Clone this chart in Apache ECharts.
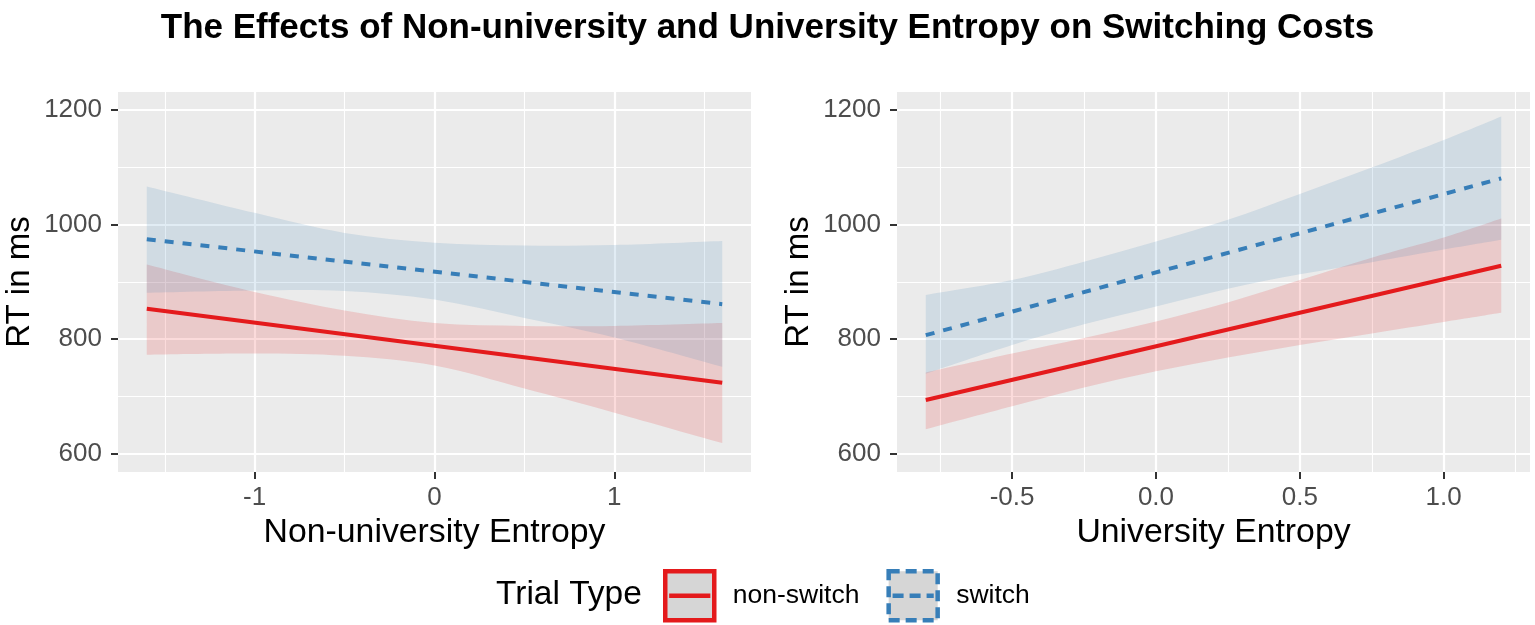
<!DOCTYPE html>
<html><head><meta charset="utf-8">
<script src="https://cdn.jsdelivr.net/npm/echarts@6/dist/echarts.min.js"></script>
<style>html,body{margin:0;padding:0;background:#fff}#c{width:1535px;height:625px}</style>
</head><body><div id="c"></div>
<script>
const titleText = 'The Effects of Non-university and University Entropy on Switching Costs';
const legendTitle = 'Trial Type';
const seriesNames = ['non-switch', 'switch'];
const yAxisTitle = 'RT in ms';
const xAxisTitles = ['Non-university Entropy', 'University Entropy'];
const yTicks = [600, 800, 1000, 1200];
const yMinorTicks = [700, 900, 1100];

// Panel 1: Non-university Entropy
const p1XTicks = [-1, 0, 1];
const p1XMinor = [-1.5, -0.5, 0.5, 1.5];
const p1LineX = [-1.6, 1.6];
const p1NonSwitchLine = [853, 724];
const p1SwitchLine = [974, 861];
const p1BandX = [-1.6, -1, -0.5, 0, 0.5, 1, 1.6];
const p1NonSwitchLower = [773, 775, 771, 754, 714, 672, 619];
const p1NonSwitchUpper = [930, 882, 850, 828, 823, 823, 828];
const p1SwitchLower = [881, 885, 884, 869, 837, 803, 752];
const p1SwitchUpper = [1066, 1020, 985, 968, 963, 964, 971];

// Panel 2: University Entropy
const p2XTicks = [-0.5, 0, 0.5, 1];
const p2XMinor = [-0.75, -0.25, 0.25, 0.75, 1.25];
const p2LineX = [-0.8, 1.2];
const p2NonSwitchLine = [694, 928];
const p2SwitchLine = [807, 1080];
const p2BandX = [-0.8, -0.5, -0.25, 0, 0.25, 0.5, 0.75, 1.0, 1.2];
const p2NonSwitchLower = [643, 683, 716, 744, 768, 790, 810, 830, 846];
const p2NonSwitchUpper = [742, 775, 802, 831, 864, 903, 942, 977, 1010];
const p2SwitchLower = [740, 790, 826, 857, 888, 913, 934, 956, 973];
const p2SwitchUpper = [877, 903, 935, 970, 1008, 1053, 1099, 1147, 1188];

const FONT = 'Liberation Sans, Arial, sans-serif';
const RED = '#E41A1C', BLUE = '#377EB8';
const RED_FILL = 'rgba(228,26,28,0.155)', BLUE_FILL = 'rgba(55,126,184,0.15)';
const Y_MIN = 568.7, Y_MAX = 1230.5;

function xAxes(gi, min, max, major, minor, fmt, name) {
  return [
    {type: 'value', gridIndex: gi, min: min, max: max, position: 'bottom',
     name: name, nameLocation: 'middle', nameGap: 44,
     nameTextStyle: {fontSize: 33.8, color: '#000', fontFamily: FONT},
     axisLine: {show: false, onZero: false},
     axisTick: {show: true, customValues: major, length: 7, lineStyle: {color: '#333', width: 2}},
     axisLabel: {customValues: major, formatter: fmt, fontSize: 26, color: '#4D4D4D', margin: 13, fontFamily: FONT},
     splitLine: {show: true, lineStyle: {color: '#fff', width: 2.2}}},
    {type: 'value', gridIndex: gi, min: min, max: max, position: 'top',
     axisLine: {show: false, onZero: false},
     axisTick: {show: false, customValues: minor},
     axisLabel: {show: false, customValues: minor},
     splitLine: {show: true, lineStyle: {color: '#fff', width: 1.1}}}
  ];
}
function yAxes(gi) {
  return [
    {type: 'value', gridIndex: gi, min: Y_MIN, max: Y_MAX, position: 'left',
     name: yAxisTitle, nameLocation: 'middle', nameGap: 82,
     nameTextStyle: {fontSize: 33, color: '#000', fontFamily: FONT},
     axisLine: {show: false, onZero: false},
     axisTick: {show: true, customValues: yTicks, length: 7, lineStyle: {color: '#333', width: 2}},
     axisLabel: {customValues: yTicks, formatter: v => String(v), fontSize: 26, color: '#4D4D4D', margin: 16, fontFamily: FONT},
     splitLine: {show: true, lineStyle: {color: '#fff', width: 2.2}}},
    {type: 'value', gridIndex: gi, min: Y_MIN, max: Y_MAX, position: 'right',
     axisLine: {show: false, onZero: false},
     axisTick: {show: false, customValues: yMinorTicks},
     axisLabel: {show: false, customValues: yMinorTicks},
     splitLine: {show: true, lineStyle: {color: '#fff', width: 1.1}}}
  ];
}
// smooth curve (Catmull-Rom -> cubic Bezier) through pixel points
function curveSegs(pts) {
  let d = '';
  const n = pts.length;
  for (let i = 0; i < n - 1; i++) {
    const p0 = pts[Math.max(i - 1, 0)], p1 = pts[i], p2 = pts[i + 1], p3 = pts[Math.min(i + 2, n - 1)];
    const c1 = [p1[0] + (p2[0] - p0[0]) / 6, p1[1] + (p2[1] - p0[1]) / 6];
    const c2 = [p2[0] - (p3[0] - p1[0]) / 6, p2[1] - (p3[1] - p1[1]) / 6];
    d += ' C' + c1[0] + ',' + c1[1] + ' ' + c2[0] + ',' + c2[1] + ' ' + p2[0] + ',' + p2[1];
  }
  return d;
}
function ribbon(xi, yi, xs, lo, hi, color) {
  return {
    type: 'custom', xAxisIndex: xi, yAxisIndex: yi, silent: true, z: 2,
    data: xs.map((x, i) => [x, lo[i], hi[i]]),
    encode: {x: 0, y: [1, 2]},
    renderItem: function (params, api) {
      if (params.dataIndex !== 0) return null;
      const up = xs.map((x, i) => api.coord([x, hi[i]]));
      const dn = xs.map((x, i) => api.coord([x, lo[i]])).reverse();
      const d = 'M' + up[0][0] + ',' + up[0][1] + curveSegs(up) +
                ' L' + dn[0][0] + ',' + dn[0][1] + curveSegs(dn) + ' Z';
      return {type: 'path', shape: {pathData: d}, style: {fill: color}};
    }
  };
}
function line(xi, yi, name, xs, ys, color, dashed) {
  return {
    type: 'line', name: name, xAxisIndex: xi, yAxisIndex: yi, z: 3,
    data: xs.map((x, i) => [x, ys[i]]), symbol: 'none', silent: true,
    itemStyle: {color: color},
    lineStyle: {color: color, width: 4, type: dashed ? [9, 9] : 'solid', cap: 'butt'}
  };
}

const chart = echarts.init(document.getElementById('c'), null, {renderer: 'canvas'});
const grids = [
  {left: 118, top: 92, width: 633, height: 380, show: true, backgroundColor: '#EBEBEB', borderWidth: 0, outerBoundsMode: 'none'},
  {left: 897, top: 92, width: 633, height: 380, show: true, backgroundColor: '#EBEBEB', borderWidth: 0, outerBoundsMode: 'none'}
];
const ICON = 'path://M0,0L100,0L100,100L0,100ZM8,50L92,50';
chart.setOption({
  animation: false,
  backgroundColor: '#fff',
  title: {text: titleText, left: 'center', top: 11, padding: 0,
          textStyle: {fontSize: 35, fontWeight: 'bold', color: '#000', fontFamily: FONT}},
  grid: grids,
  xAxis: [].concat(
    xAxes(0, -1.76, 1.76, p1XTicks, p1XMinor, v => String(v), xAxisTitles[0]),
    xAxes(1, -0.9, 1.3, p2XTicks, p2XMinor, v => Number(v).toFixed(1), xAxisTitles[1])
  ),
  yAxis: [].concat(yAxes(0), yAxes(1)),
  legend: {
    left: 663, top: 569, itemWidth: 50, itemHeight: 49, itemGap: 27, padding: 0,
    selectedMode: false,
    textStyle: {fontSize: 26.5, color: '#000', fontFamily: FONT, padding: [0, 0, 0, 13]},
    data: [
      {name: seriesNames[0], icon: ICON, itemStyle: {color: '#D6D6D6', borderColor: RED, borderWidth: 4.5}},
      {name: seriesNames[1], icon: ICON, itemStyle: {color: '#D6D6D6', borderColor: BLUE, borderWidth: 4.5, borderType: [11, 6]}}
    ]
  },
  graphic: [
    {type: 'text', x: 496, y: 595, style: {text: legendTitle, font: '33.5px ' + FONT, fill: '#000', verticalAlign: 'middle', textVerticalAlign: 'middle'}}
  ],
  series: [
    ribbon(0, 0, p1BandX, p1NonSwitchLower, p1NonSwitchUpper, RED_FILL),
    ribbon(0, 0, p1BandX, p1SwitchLower, p1SwitchUpper, BLUE_FILL),
    ribbon(2, 2, p2BandX, p2NonSwitchLower, p2NonSwitchUpper, RED_FILL),
    ribbon(2, 2, p2BandX, p2SwitchLower, p2SwitchUpper, BLUE_FILL),
    line(0, 0, seriesNames[0], p1LineX, p1NonSwitchLine, RED, false),
    line(0, 0, seriesNames[1], p1LineX, p1SwitchLine, BLUE, true),
    line(2, 2, seriesNames[0], p2LineX, p2NonSwitchLine, RED, false),
    line(2, 2, seriesNames[1], p2LineX, p2SwitchLine, BLUE, true)
  ]
});
</script>
</body></html>
